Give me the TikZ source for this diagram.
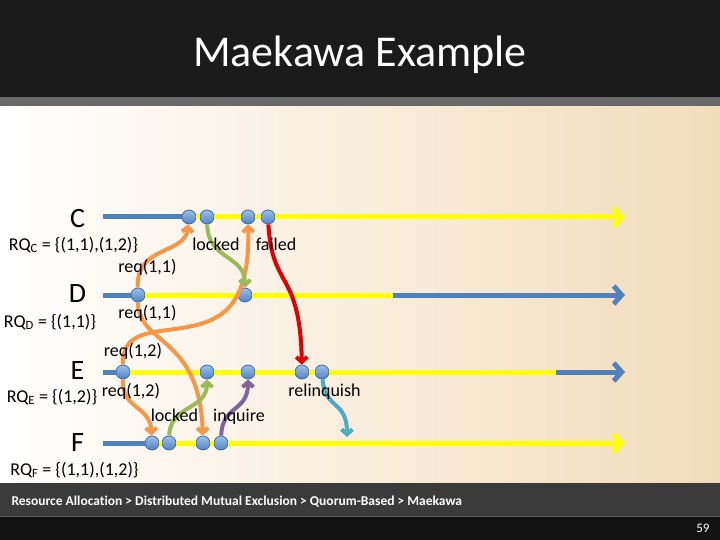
\documentclass[tikz,border=0pt]{standalone}
\usepackage{fontspec}
\setmainfont{Carlito}[Ligatures=CommonOff]
\usepackage{tikz}
\usetikzlibrary{arrows.meta}

\definecolor{procblue}{HTML}{4F81BD}
\definecolor{procyellow}{HTML}{FFFF00}
\definecolor{reqorange}{HTML}{F79646}
\definecolor{lockgreen}{HTML}{9BBB59}
\definecolor{failred}{HTML}{E00000}
\definecolor{inqpurple}{HTML}{8064A2}
\definecolor{relcyan}{HTML}{4BACC6}
\definecolor{dotedge}{HTML}{3D6BA8}
\definecolor{dottop}{HTML}{9DBFEA}
\definecolor{dotbottom}{HTML}{5084C4}
\definecolor{cream}{HTML}{F2DCBA}
\definecolor{topband}{HTML}{1B1B1B}
\definecolor{topstrip}{HTML}{686868}
\definecolor{footband}{HTML}{3B3B3B}
\definecolor{footline}{HTML}{5C5C5C}
\definecolor{bottomband}{HTML}{131313}

\tikzset{
    proc/.style={line width=5pt},
    blueproc/.style={proc, draw=procblue},
    yellowproc/.style={proc, draw=procyellow},
    procarrow/.style={-{Straight Barb[length=8pt,width=18pt]}},
    msg/.style={line width=4pt, -{Straight Barb[length=5pt,width=11pt]}},
    reqmsg/.style={msg, draw=reqorange},
    lockmsg/.style={msg, draw=lockgreen},
    failmsg/.style={msg, draw=failred},
    inqmsg/.style={msg, draw=inqpurple},
    relmsg/.style={msg, draw=relcyan},
    dot/.style={circle, minimum size=14pt, inner sep=0pt, draw=dotedge,
        line width=0.8pt, top color=dottop, bottom color=dotbottom},
    lbl/.style={font=\fontsize{18}{21}\selectfont, anchor=base},
    proclbl/.style={font=\fontsize{28}{32}\selectfont, anchor=base}
}

\begin{document}
\begin{tikzpicture}[x=1pt, y=-1pt]
    \useasboundingbox (0, 0) rectangle (720, 540);

    % slide background
    \fill[topband] (0, 0) rectangle (720, 97);
    \fill[topstrip] (0, 97) rectangle (720, 107);
    \fill[left color=white, middle color=cream!30!white, right color=cream]
        (0, 107) rectangle (720, 483);
    \fill[footband] (0, 483) rectangle (720, 516);
    \fill[bottomband] (0, 516) rectangle (720, 540);
    \draw[footline, line width=1pt] (0, 516.5) -- (720, 516.5);

    \node[anchor=base, white, font=\fontsize{44}{50}\selectfont] (title)
        at (360, 67) {Maekawa Example};

    % events on the process lines
    \foreach \n/\x/\y in {c1/189/217, c2/207/217, c3/248/217, c4/268/217,
                          d1/138/295, d2/245/295,
                          e1/123/372, e2/207/372, e3/248/372, e4/302/372, e5/322/372,
                          f1/152/443, f2/169/443, f3/203/443, f4/221/443} {
        \node[dot] (\n) at (\x, \y) {};
    }

    \coordinate (cs) at (103, 217);
    \coordinate (ce) at (625, 217);
    \coordinate (ds) at (103, 295);
    \coordinate (dm) at (393, 295);
    \coordinate (de) at (625, 295);
    \coordinate (es) at (103, 372);
    \coordinate (em) at (556, 372);
    \coordinate (ee) at (625, 372);
    \coordinate (fs) at (103, 443);
    \coordinate (fe) at (625, 443);
    \coordinate (frel) at (347, 437);
    \coordinate (ebend) at (175, 329);

    % process lines
    \draw[blueproc] (cs) -- (c1);
    \draw[yellowproc, procarrow] (c1) -- (c2) -- (c3) -- (c4) -- (ce);
    \draw[blueproc] (ds) -- (d1);
    \draw[yellowproc] (d1) -- (d2) -- (dm);
    \draw[blueproc, procarrow] (dm) -- (de);
    \draw[blueproc] (es) -- (e1);
    \draw[yellowproc] (e1) -- (e2) -- (e3) -- (e4) -- (e5) -- (em);
    \draw[blueproc, procarrow] (em) -- (ee);
    \draw[blueproc] (fs) -- (f1);
    \draw[yellowproc, procarrow] (f1) -- (f2) -- (f3) -- (f4) -- (fe);

    % messages
    \draw[reqmsg] (d1) .. controls (136, 245) and (185, 255) .. (c1);
    \draw[reqmsg] (d1) .. controls (138, 345) and (200, 335) .. (f3);
    \draw[reqmsg] (e1) .. controls (122, 335) and (145, 333) .. (ebend)
                       .. controls (220, 323) and (250, 310) .. (c3);
    \draw[reqmsg] (e1) .. controls (122, 410) and (150, 405) .. (f1);
    \draw[lockmsg] (c2) .. controls (208, 260) and (245, 255) .. (d2);
    \draw[lockmsg] (f2) .. controls (170, 405) and (207, 410) .. (e2);
    \draw[failmsg] (c4) .. controls (272, 290) and (300, 270) .. (e4);
    \draw[inqmsg] (f4) .. controls (222, 405) and (248, 412) .. (e3);
    \draw[relmsg] (e5) .. controls (325, 410) and (347, 400) .. (frel);

    % process names and request sets
    \node[proclbl] (cname) at (77.5, 227) {C};
    \node[proclbl] (dname) at (77.5, 302) {D};
    \node[proclbl] (ename) at (77.5, 379) {E};
    \node[proclbl] (fname) at (77.5, 451) {F};
    \node[lbl] (rqc) at (73.5, 250) {RQ\textsubscript{C} = \{(1,1),(1,2)\}};
    \node[lbl] (rqd) at (50, 327) {RQ\textsubscript{D} = \{(1,1)\}};
    \node[lbl] (rqe) at (52, 402) {RQ\textsubscript{E} = \{(1,2)\}};
    \node[lbl] (rqf) at (74.5, 475) {RQ\textsubscript{F} = \{(1,1),(1,2)\}};

    % message labels
    \node[lbl] at (147.5, 272) {req(1,1)};
    \node[lbl] at (147.5, 318) {req(1,1)};
    \node[lbl] at (133, 356) {req(1,2)};
    \node[lbl] at (131, 396) {req(1,2)};
    \node[lbl] at (216, 250) {locked};
    \node[lbl] at (276, 250) {failed};
    \node[lbl] at (174.5, 421) {locked};
    \node[lbl] at (239, 421) {inquire};
    \node[lbl] at (324.5, 396) {relinquish};

    % footer
    \node[anchor=base west, white, font=\fontsize{13.5}{16}\selectfont\bfseries]
        (crumbs) at (8, 505)
        {Resource Allocation > Distributed Mutual Exclusion > Quorum-Based > Maekawa};
    \node[anchor=base east, white, font=\fontsize{13}{15}\selectfont] (page)
        at (713, 532) {59};
\end{tikzpicture}
\end{document}
